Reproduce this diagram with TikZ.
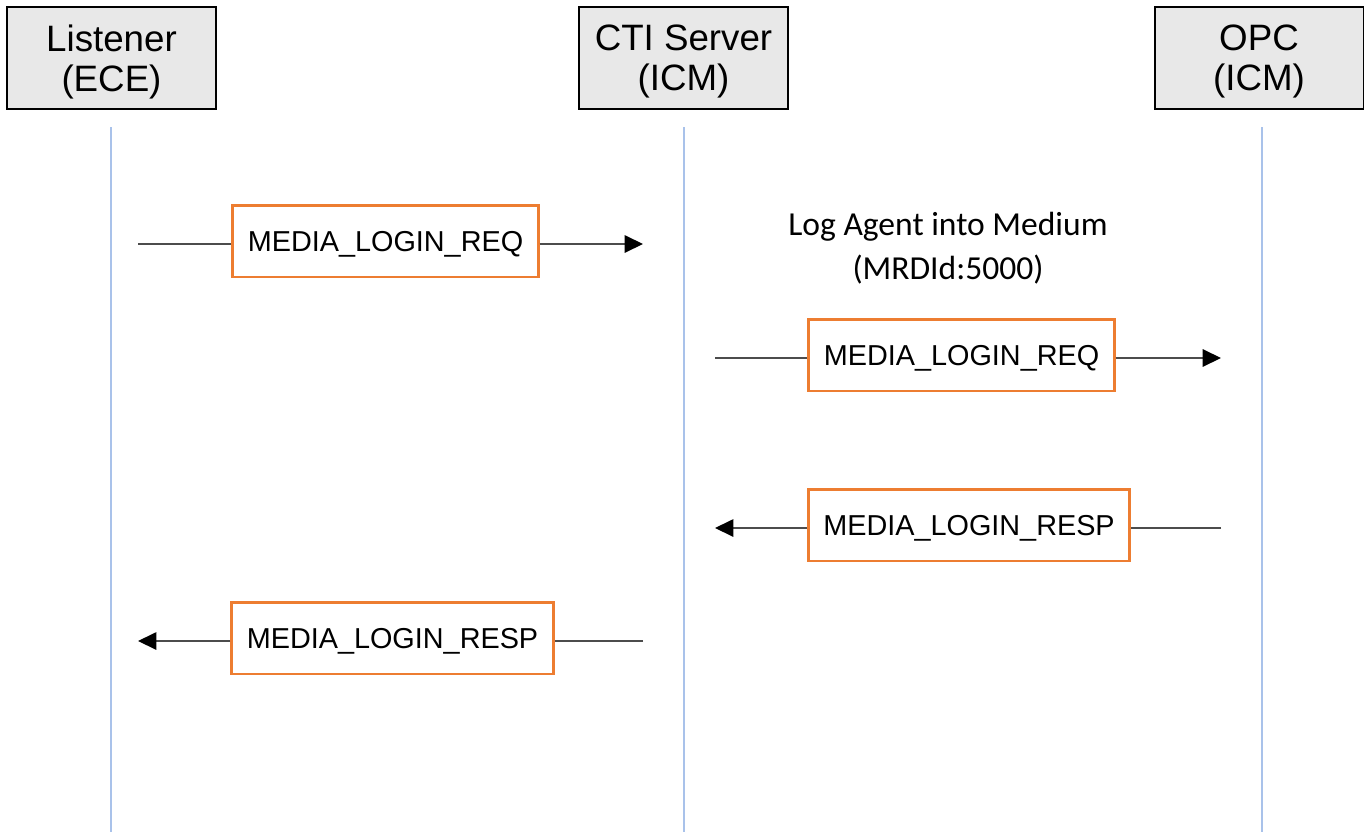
\documentclass[tikz,border=0pt]{standalone}
\usepackage{fontspec}
\setmainfont{Liberation Sans}
\newfontfamily\notefont{Carlito}
\usetikzlibrary{arrows.meta,positioning}
\definecolor{lifeblue}{HTML}{A9C2EA}
\definecolor{msgorange}{HTML}{ED7D31}
\definecolor{headgray}{HTML}{E8E8E8}

\begin{document}
\begin{tikzpicture}[x=0.02cm,y=-0.02cm,
		actor/.style={draw=black,line width=1.1pt,fill=headgray,minimum width=4.18cm,minimum height=2.04cm,align=center,text depth=0pt,font=\fontsize{20.9}{22.7}\selectfont},
		lifeline/.style={draw=lifeblue,line width=1pt},
		msgbox/.style={draw=msgorange,line width=1.7pt,fill=white,minimum height=1.44cm,inner xsep=0.3cm,text depth=0pt,font=\fontsize{16.4}{19}\selectfont},
		msgline/.style={draw=black!70,line width=0.8pt},
		msgarrow/.style={msgline,-{Triangle[length=10.5pt,width=10pt,color=black]}}]
		\useasboundingbox (0,0) rectangle (1369,832);
		
		% actors
		\node[actor] (lis) at (111.5,58) {Listener\\(ECE)};
		\node[actor] (cti) at (683.5,58) {CTI Server\\(ICM)};
		\node[actor] (opc) at (1259,58) {OPC\\(ICM)};
		
		% lifelines
		\coordinate (lis top) at (111,127);
		\coordinate (lis bot) at (111,832);
		\coordinate (cti top) at (684,127);
		\coordinate (cti bot) at (684,832);
		\coordinate (opc top) at (1262,127);
		\coordinate (opc bot) at (1262,832);
		\draw[lifeline] (lis top) -- (lis bot);
		\draw[lifeline] (cti top) -- (cti bot);
		\draw[lifeline] (opc top) -- (opc bot);
		
		% listener -> cti
		\node[msgbox] (req1) at (385.5,241) {MEDIA\_LOGIN\_REQ};
		\coordinate (req1 a) at (138,244);
		\coordinate (req1 b) at (643,244);
		\draw[msgline] (req1 a) -- (req1.west |- req1 a);
		\draw[msgarrow] (req1.east |- req1 b) -- (req1 b);
		
		\node[font=\notefont\fontsize{19.1}{25}\selectfont,align=center] (note) at (948,248) {Log Agent into Medium\\(MRDId:5000)};
		
		% cti -> opc
		\node[msgbox] (req2) at (961.5,355) {MEDIA\_LOGIN\_REQ};
		\coordinate (req2 a) at (715,358);
		\coordinate (req2 b) at (1221,358);
		\draw[msgline] (req2 a) -- (req2.west |- req2 a);
		\draw[msgarrow] (req2.east |- req2 b) -- (req2 b);
		
		% opc -> cti
		\node[msgbox] (resp2) at (969,525) {MEDIA\_LOGIN\_RESP};
		\coordinate (resp2 a) at (1221,528);
		\coordinate (resp2 b) at (715,528);
		\draw[msgline] (resp2 a) -- (resp2.east |- resp2 a);
		\draw[msgarrow] (resp2.west |- resp2 b) -- (resp2 b);
		
		% cti -> listener
		\node[msgbox] (resp1) at (392.5,638) {MEDIA\_LOGIN\_RESP};
		\coordinate (resp1 a) at (643,641);
		\coordinate (resp1 b) at (138,641);
		\draw[msgline] (resp1 a) -- (resp1.east |- resp1 a);
		\draw[msgarrow] (resp1.west |- resp1 b) -- (resp1 b);
		
\end{tikzpicture}
\end{document}
